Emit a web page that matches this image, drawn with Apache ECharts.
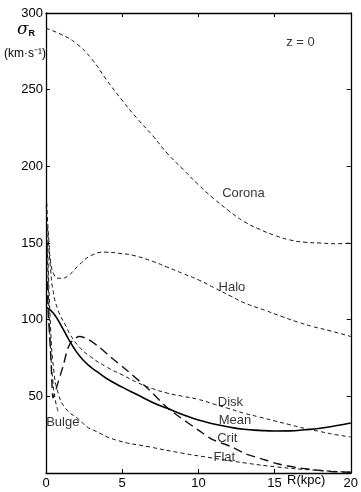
<!DOCTYPE html>
<html><head><meta charset="utf-8">
<script src="https://cdn.jsdelivr.net/npm/echarts@6/dist/echarts.min.js"></script>
<style>html,body{margin:0;padding:0;background:#fff}#c{width:361px;height:492px}</style>
</head><body><div id="c"></div>
<script>
// R in kpc, sigma_R in km/s
const coronaR = [0,1,2,3,4,5,6,7,8,9,10,11,12,13,14,15,16,17,18,19,20];
const coronaV = [290,286,280,270,256,243,231,220,208,198,188,179,171,164,159,155,152,150.5,150,149.5,150];
const haloR = [0.05,0.1,0.2,0.3,0.5,0.8,1.04,1.5,2.2,3,3.9,5,5.7,7,7.9,9,10,11,12.2,13,14.4,15.5,16.5,17.5,18.7,20];
const haloV = [176,165,150,138,130,127,127,129,136,142,144,143,142,138,134.5,130,126,121,115,111,106,102,98.5,95.5,92.6,89];
const diskR = [0.1,0.2,0.3,0.46,0.8,1.35,1.6,2.2,2.9,4,5,6,7,8,9,10,11,12,13,14,15,16,17,18,19,20];
const diskV = [160,145,133,119,106,95,90,82,76,69,64,59,55,52,50,48,45,42,39,36.5,34,31.5,29,27,25,23.5];
const meanR = [0.05,0.5,1,1.5,2,2.5,3,3.5,4,5,6,7,8,9,10,11,12,13,14,15,16,17,18,19,20];
const meanV = [108,104,96,87,79,73,68.5,65,61.5,56,51,46,42,38,34.5,32,30,28.5,27.8,27.4,27.5,28.2,29.2,30.8,32.6];
const critR = [0.08,0.15,0.25,0.35,0.46,0.55,0.7,1.1,1.56,2.2,2.8,3.5,4.2,5.3,6.8,7.9,8.7,10,10.9,12.2,13.1,14.4,15.2,16.5,17.4,18.7,20];
const critV = [125,103,88,68,49,51,56,69,84,89,87,82,76,67,54,43,37,28,22,17,12.5,8.5,6,3.5,2.3,1,0.5];
const flatR = [0.1,0.3,0.5,0.8,1.3,2.2,2.7,3.1,4.6,6.8,8.9,10.9,13.1,15.2,17.4,20];
const flatV = [150,95,68,52,42,34.6,30,28,21.5,17,13,9.8,6.5,3.9,2,0.5];
const bulgeR = [0.02,0.1,0.2,0.3,0.45,0.6,0.8];
const bulgeV = [175,140,105,80,60,48,40];
const xTicks = [0,5,10,15,20];
const yTicks = [0,50,100,150,200,250,300];
const labelNames = ['Corona','Halo','Disk','Mean','Crit','Flat','Bulge','z = 0'];
const labelR = [12.96,12.2,12.1,12.4,11.9,11.7,1.1,16.7];
const labelV = [182.6,121,46,34,22.8,10.4,33,281];

const zip = (a,b) => a.map((x,i)=>[x,b[i]]);
const font = 'Liberation Sans, Arial, sans-serif';
const shortDash = {color:'#111', width:1, type:[4,3]};
function line(name, R, V, style, smooth){
  return {name, type:'line', data:zip(R,V), showSymbol:false, symbol:'none', smooth:smooth===undefined?0.5:smooth,
    lineStyle:style, xAxisIndex:0, yAxisIndex:0, silent:true, z:3};
}
const chart = echarts.init(document.getElementById('c'), null, {renderer:'canvas'});
chart.setOption({
  backgroundColor:'#fff',
  animation:false,
  grid:{left:46, right:8, top:13, bottom:19},
  xAxis:[
    {type:'value', min:xTicks[0], max:xTicks[xTicks.length-1], interval:5, position:'bottom',
     axisLine:{lineStyle:{color:'#000', width:1.3}}, axisTick:{inside:true, length:4, lineStyle:{color:'#000'}},
     axisLabel:{color:'#000', fontSize:13, fontFamily:font, margin:4}, splitLine:{show:false}},
    {type:'value', min:0, max:20, interval:5, position:'top',
     axisLine:{show:true, onZero:false, lineStyle:{color:'#000', width:1.3}}, axisTick:{inside:true, length:4, lineStyle:{color:'#000'}},
     axisLabel:{show:false}, splitLine:{show:false}}
  ],
  yAxis:[
    {type:'value', min:yTicks[0], max:yTicks[yTicks.length-1], interval:50, position:'left',
     axisLine:{show:true, lineStyle:{color:'#000', width:1.3}}, axisTick:{show:true, inside:true, length:4, lineStyle:{color:'#000'}},
     axisLabel:{color:'#000', fontSize:13, fontFamily:font, margin:3, formatter:v=>v===0?'':String(v)}, splitLine:{show:false}},
    {type:'value', min:0, max:300, interval:50, position:'right',
     axisLine:{show:true, onZero:false, lineStyle:{color:'#000', width:1.3}}, axisTick:{show:true, inside:true, length:4, lineStyle:{color:'#000'}},
     axisLabel:{show:false}, splitLine:{show:false}}
  ],
  series:[
    line('Corona', coronaR, coronaV, shortDash),
    line('Halo', haloR, haloV, shortDash),
    line('Disk', diskR, diskV, shortDash),
    line('Flat', flatR, flatV, shortDash),
    line('Bulge', bulgeR, bulgeV, shortDash),
    line('Crit', critR, critV, {color:'#111', width:1.4, type:[9,5]}, 0.3),
    line('Mean', meanR, meanV, {color:'#000', width:1.6, type:'solid'}),
    {type:'scatter', symbolSize:0, silent:true, z:5,
     data:labelNames.map((n,i)=>({value:[labelR[i],labelV[i]], name:n})),
     label:{show:true, position:'inside', formatter:p=>p.name, color:'#000', fontSize:13, fontFamily:font}}
  ],
  graphic:[
    {type:'text', left:17, top:21, style:{text:'{a|σ}{b|R}', rich:{a:{fontSize:17, fontFamily:'DejaVu Serif', fill:'#000', fontStyle:'italic'}, b:{fontSize:9, fontWeight:'bold', fontFamily:font, fill:'#000', padding:[8,0,0,0]}}}},
    {type:'text', left:4, top:48, style:{text:'(km·s⁻¹)', fontSize:12, fontFamily:font, fill:'#000'}},
    {type:'text', left:287, top:474, style:{text:'R(kpc)', fontSize:13, fontFamily:font, fill:'#000'}}
  ]
});
</script></body></html>
